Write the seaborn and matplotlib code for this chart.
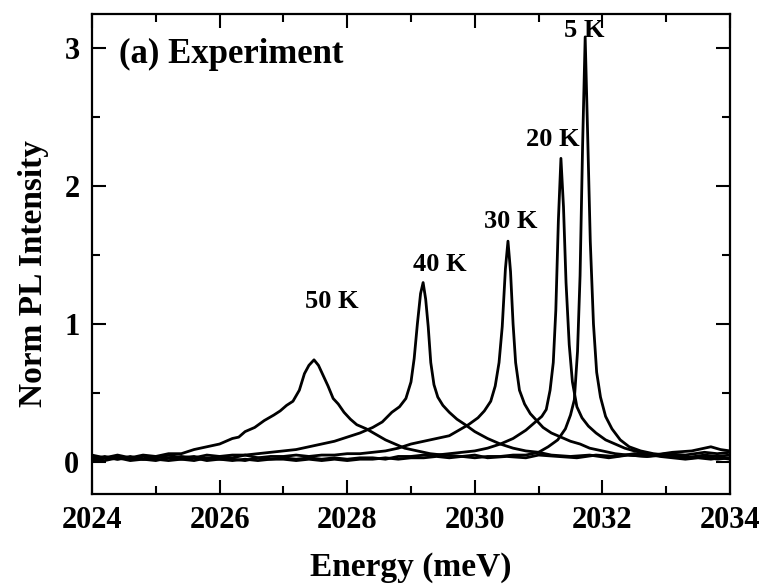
import numpy as np
import matplotlib
matplotlib.use("Agg")
import matplotlib.pyplot as plt
from matplotlib.ticker import MultipleLocator
import seaborn as sns

# PL spectra (energy in meV, normalised intensity)
e_50K = [2024.0, 2024.2, 2024.4, 2024.6, 2024.8, 2025.0, 2025.2, 2025.4, 2025.6, 2025.8,
         2026.0, 2026.2, 2026.3, 2026.4, 2026.55, 2026.7, 2026.85, 2026.95, 2027.05, 2027.15,
         2027.25, 2027.33, 2027.4, 2027.48, 2027.55, 2027.62, 2027.7, 2027.78, 2027.86, 2027.95,
         2028.05, 2028.15, 2028.3, 2028.45, 2028.6, 2028.75, 2028.9, 2029.1, 2029.3, 2029.5,
         2029.8, 2030.0, 2030.2, 2030.5, 2030.8, 2031.0, 2031.3, 2031.6, 2031.9, 2032.2,
         2032.5, 2032.8, 2033.1, 2033.4, 2033.7, 2033.85, 2034.0]
i_50K = [0.04, 0.03, 0.05, 0.03, 0.05, 0.04, 0.06, 0.06, 0.09, 0.11,
         0.13, 0.17, 0.18, 0.22, 0.25, 0.30, 0.34, 0.37, 0.41, 0.44,
         0.52, 0.64, 0.70, 0.74, 0.70, 0.63, 0.55, 0.46, 0.42, 0.36,
         0.31, 0.27, 0.24, 0.20, 0.16, 0.13, 0.10, 0.08, 0.06, 0.05,
         0.04, 0.05, 0.03, 0.04, 0.03, 0.05, 0.04, 0.03, 0.05, 0.04,
         0.06, 0.05, 0.07, 0.08, 0.11, 0.09, 0.08]

e_40K = [2024.0, 2024.2, 2024.4, 2024.6, 2024.8, 2025.0, 2025.2, 2025.4, 2025.6, 2025.8,
         2026.0, 2026.2, 2026.4, 2026.6, 2026.8, 2027.0, 2027.2, 2027.4, 2027.6, 2027.8,
         2028.0, 2028.2, 2028.4, 2028.55, 2028.7, 2028.82, 2028.92, 2029.0, 2029.05, 2029.1,
         2029.15, 2029.19, 2029.23, 2029.27, 2029.31, 2029.36, 2029.42, 2029.5, 2029.6, 2029.72,
         2029.85, 2030.0, 2030.2, 2030.4, 2030.6, 2030.8, 2031.0, 2031.2, 2031.5, 2031.8,
         2032.1, 2032.4, 2032.7, 2033.0, 2033.3, 2033.6, 2033.8, 2034.0]
i_40K = [0.02, 0.04, 0.02, 0.03, 0.02, 0.04, 0.03, 0.04, 0.03, 0.05,
         0.04, 0.05, 0.05, 0.06, 0.07, 0.08, 0.09, 0.11, 0.13, 0.15,
         0.18, 0.21, 0.25, 0.29, 0.36, 0.40, 0.46, 0.58, 0.75, 1.00,
         1.22, 1.30, 1.18, 0.98, 0.72, 0.56, 0.47, 0.41, 0.36, 0.31,
         0.27, 0.22, 0.17, 0.13, 0.10, 0.08, 0.07, 0.05, 0.04, 0.05,
         0.03, 0.05, 0.04, 0.06, 0.05, 0.07, 0.06, 0.07]

e_30K = [2024.0, 2024.2, 2024.4, 2024.6, 2024.8, 2025.0, 2025.2, 2025.4, 2025.6, 2025.8,
         2026.0, 2026.2, 2026.4, 2026.6, 2026.8, 2027.0, 2027.2, 2027.4, 2027.6, 2027.8,
         2028.0, 2028.2, 2028.4, 2028.6, 2028.8, 2029.0, 2029.2, 2029.4, 2029.6, 2029.75,
         2029.9, 2030.05, 2030.15, 2030.25, 2030.32, 2030.38, 2030.43, 2030.48, 2030.52, 2030.56,
         2030.6, 2030.64, 2030.7, 2030.78, 2030.87, 2030.97, 2031.07, 2031.2, 2031.35, 2031.5,
         2031.65, 2031.8, 2032.0, 2032.2, 2032.4, 2032.7, 2033.0, 2033.3, 2033.6, 2033.8, 2034.0]
i_30K = [0.05, 0.03, 0.04, 0.02, 0.04, 0.03, 0.05, 0.03, 0.04, 0.02,
         0.04, 0.03, 0.05, 0.03, 0.04, 0.04, 0.05, 0.04, 0.05, 0.05,
         0.06, 0.06, 0.07, 0.08, 0.10, 0.13, 0.15, 0.17, 0.19, 0.23,
         0.27, 0.32, 0.37, 0.44, 0.55, 0.72, 0.98, 1.40, 1.60, 1.38,
         1.00, 0.72, 0.52, 0.42, 0.35, 0.30, 0.25, 0.21, 0.18, 0.15,
         0.13, 0.10, 0.08, 0.06, 0.05, 0.04, 0.05, 0.03, 0.05, 0.04, 0.05]

e_20K = [2024.0, 2024.2, 2024.4, 2024.6, 2024.8, 2025.0, 2025.2, 2025.4, 2025.6, 2025.8,
         2026.0, 2026.2, 2026.4, 2026.6, 2026.8, 2027.0, 2027.2, 2027.4, 2027.6, 2027.8,
         2028.0, 2028.2, 2028.4, 2028.6, 2028.8, 2029.0, 2029.2, 2029.4, 2029.6, 2029.8,
         2030.0, 2030.2, 2030.4, 2030.6, 2030.8, 2030.95, 2031.05, 2031.12, 2031.18, 2031.23,
         2031.27, 2031.31, 2031.35, 2031.39, 2031.43, 2031.48, 2031.53, 2031.6, 2031.68, 2031.78,
         2031.9, 2032.05, 2032.2, 2032.35, 2032.5, 2032.7, 2032.9, 2033.1, 2033.3, 2033.5,
         2033.7, 2033.85, 2034.0]
i_20K = [0.02, 0.01, 0.03, 0.01, 0.02, 0.01, 0.03, 0.02, 0.01, 0.03,
         0.02, 0.02, 0.01, 0.03, 0.02, 0.03, 0.02, 0.03, 0.02, 0.03,
         0.02, 0.03, 0.03, 0.02, 0.04, 0.04, 0.05, 0.05, 0.06, 0.07,
         0.08, 0.10, 0.13, 0.17, 0.23, 0.29, 0.33, 0.38, 0.52, 0.72,
         1.10, 1.75, 2.20, 1.85, 1.30, 0.85, 0.58, 0.40, 0.32, 0.26,
         0.21, 0.16, 0.13, 0.10, 0.08, 0.06, 0.04, 0.03, 0.02, 0.03,
         0.02, 0.03, 0.02]

e_5K = [2024.0, 2024.2, 2024.4, 2024.6, 2024.8, 2025.0, 2025.2, 2025.4, 2025.6, 2025.8,
        2026.0, 2026.2, 2026.4, 2026.6, 2026.8, 2027.0, 2027.2, 2027.4, 2027.6, 2027.8,
        2028.0, 2028.2, 2028.4, 2028.6, 2028.8, 2029.0, 2029.2, 2029.4, 2029.6, 2029.8,
        2030.0, 2030.2, 2030.4, 2030.6, 2030.8, 2031.0, 2031.15, 2031.3, 2031.42, 2031.5,
        2031.56, 2031.61, 2031.65, 2031.69, 2031.73, 2031.77, 2031.81, 2031.86, 2031.91, 2031.97,
        2032.05, 2032.15, 2032.28, 2032.42, 2032.6, 2032.8, 2033.0, 2033.2, 2033.4, 2033.6,
        2033.8, 2034.0]
i_5K = [0.01, 0.03, 0.02, 0.04, 0.02, 0.02, 0.01, 0.02, 0.03, 0.01,
        0.02, 0.01, 0.02, 0.01, 0.02, 0.02, 0.01, 0.02, 0.01, 0.02,
        0.01, 0.02, 0.02, 0.03, 0.02, 0.03, 0.03, 0.04, 0.03, 0.04,
        0.03, 0.04, 0.04, 0.05, 0.05, 0.07, 0.11, 0.16, 0.24, 0.34,
        0.45, 0.80, 1.35, 2.30, 3.08, 2.35, 1.60, 1.00, 0.65, 0.47,
        0.33, 0.24, 0.16, 0.11, 0.08, 0.06, 0.05, 0.04, 0.03, 0.04,
        0.02, 0.03]

curves = [(e_50K, i_50K), (e_40K, i_40K), (e_30K, i_30K), (e_20K, i_20K), (e_5K, i_5K)]

# temperature labels (text, energy, intensity)
peak_labels = ["50 K", "40 K", "30 K", "20 K", "5 K"]
label_e = [2027.76, 2029.45, 2030.57, 2031.23, 2031.72]
label_i = [1.16, 1.43, 1.74, 2.34, 3.13]

sns.set_theme(style="ticks")
plt.rcParams['font.family'] = ['Liberation Serif', 'DejaVu Serif']
plt.rcParams['font.weight'] = 'bold'
plt.rcParams['axes.labelweight'] = 'bold'
plt.rcParams['text.color'] = 'black'
plt.rcParams['axes.labelcolor'] = 'black'

fig = plt.figure(figsize=(7.64, 5.88), dpi=100)
ax = fig.add_axes([0.1204, 0.1599, 0.8351, 0.8163])

for e, i in curves:
    sns.lineplot(x=e, y=i, color='black', linewidth=2.0, sort=False, ax=ax)

for txt, x, y in zip(peak_labels, label_e, label_i):
    ax.text(x, y, txt, ha='center', va='center', fontsize=19, fontweight='bold', color='black')

ax.text(0.043, 0.915, "(a) Experiment", transform=ax.transAxes,
        ha='left', va='center', fontsize=25, fontweight='bold', color='black')

ax.set_xlim(2024, 2034)
ax.set_ylim(-0.232, 3.246)
ax.xaxis.set_major_locator(MultipleLocator(2))
ax.xaxis.set_minor_locator(MultipleLocator(1))
ax.yaxis.set_major_locator(MultipleLocator(1))
ax.yaxis.set_minor_locator(MultipleLocator(0.5))

ax.tick_params(which='both', direction='in', top=True, right=True,
               width=1.5, colors='black', labelcolor='black', labelsize=22, pad=9)
ax.tick_params(which='major', length=10)
ax.tick_params(which='minor', length=5.5)
for s in ax.spines.values():
    s.set_linewidth(1.6)
    s.set_color('black')

ax.set_xlabel("Energy (meV)", fontsize=24, fontweight='bold', va='center', color='black')
ax.set_ylabel("Norm PL Intensity", fontsize=24, fontweight='bold', va='center', color='black')
ax.xaxis.set_label_coords(0.5, -0.154)
ax.yaxis.set_label_coords(-0.092, 0.46)

fig.savefig("out.png", dpi=100)
